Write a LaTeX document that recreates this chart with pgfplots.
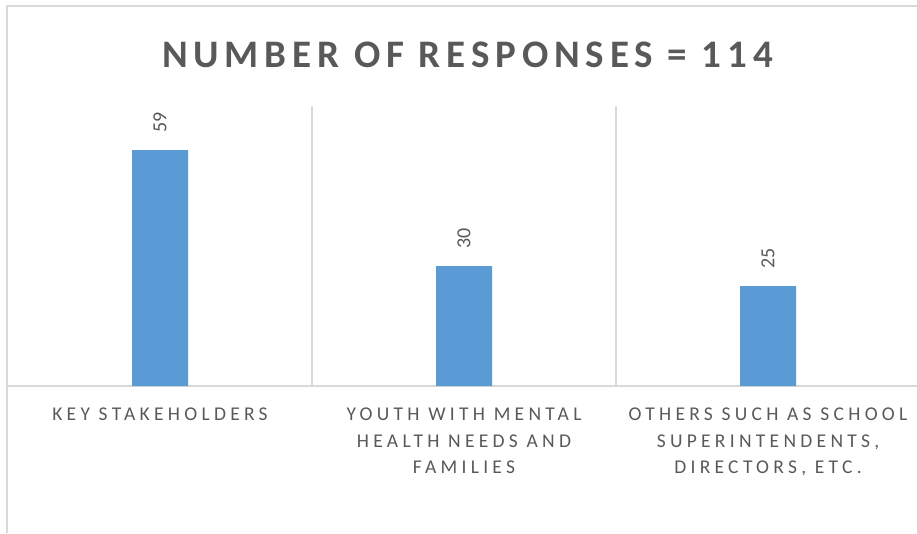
\documentclass[border=0pt]{standalone}
\usepackage{fontspec}
\setmainfont{Carlito}
\newfontfamily\labelfont[LetterSpace=22]{Carlito}
\newfontfamily\titlefont[LetterSpace=15]{Carlito}
\usepackage{pgfplots}
\pgfplotsset{compat=1.18}

\definecolor{barblue}{HTML}{5B9BD5}
\definecolor{txtgray}{HTML}{595959}
\definecolor{linegray}{HTML}{D9D9D9}

\begin{document}
\begin{tikzpicture}
  \useasboundingbox (0,0) rectangle (917pt,533pt);

  % chart frame (cropped on the right and bottom)
  \draw[linegray, line width=1.5pt] (7pt,0) -- (7pt,527pt) -- (930pt,527pt);

  \node[font=\titlefont\bfseries\fontsize{39}{44}\selectfont, text=txtgray, inner sep=0pt]
    at (467.5pt,478pt) {NUMBER OF RESPONSES = 114};

  \begin{axis}[
    at={(8pt,147pt)}, anchor=south west,
    scale only axis,
    width=912pt, height=280pt,
    xmin=-0.5, xmax=2.5,
    ymin=0, ymax=70,
    axis x line*=bottom,
    axis y line=none,
    axis line style={linegray, line width=2pt},
    xtick={0,1,2},
    xticklabels={
      KEY STAKEHOLDERS,
      {YOUTH WITH MENTAL\\HEALTH NEEDS AND\\FAMILIES},
      {OTHERS SUCH AS SCHOOL\\SUPERINTENDENTS,\\DIRECTORS, ETC.}},
    major tick length=0pt,
    minor tick length=0pt,
    minor xtick={0.5,1.5},
    xminorgrids=true,
    minor grid style={linegray, line width=1.5pt},
    xticklabel style={
      font=\labelfont\fontsize{19.5}{26.5}\selectfont,
      text=txtgray, align=center, anchor=north,
      inner sep=0pt, yshift=-22pt},
    ybar,
    bar width=56pt,
    nodes near coords={\pgfmathprintnumber{\pgfplotspointmeta}},
    /pgf/number format/assume math mode=true,
    every node near coord/.append style={
      font=\fontsize{20}{24}\selectfont,
      text=txtgray, rotate=90, anchor=west,
      inner ysep=0pt, inner xsep=17pt},
  ]
    \addplot[fill=barblue, draw=none] coordinates {(0,59) (1,30) (2,25)};
  \end{axis}
\end{tikzpicture}
\end{document}
